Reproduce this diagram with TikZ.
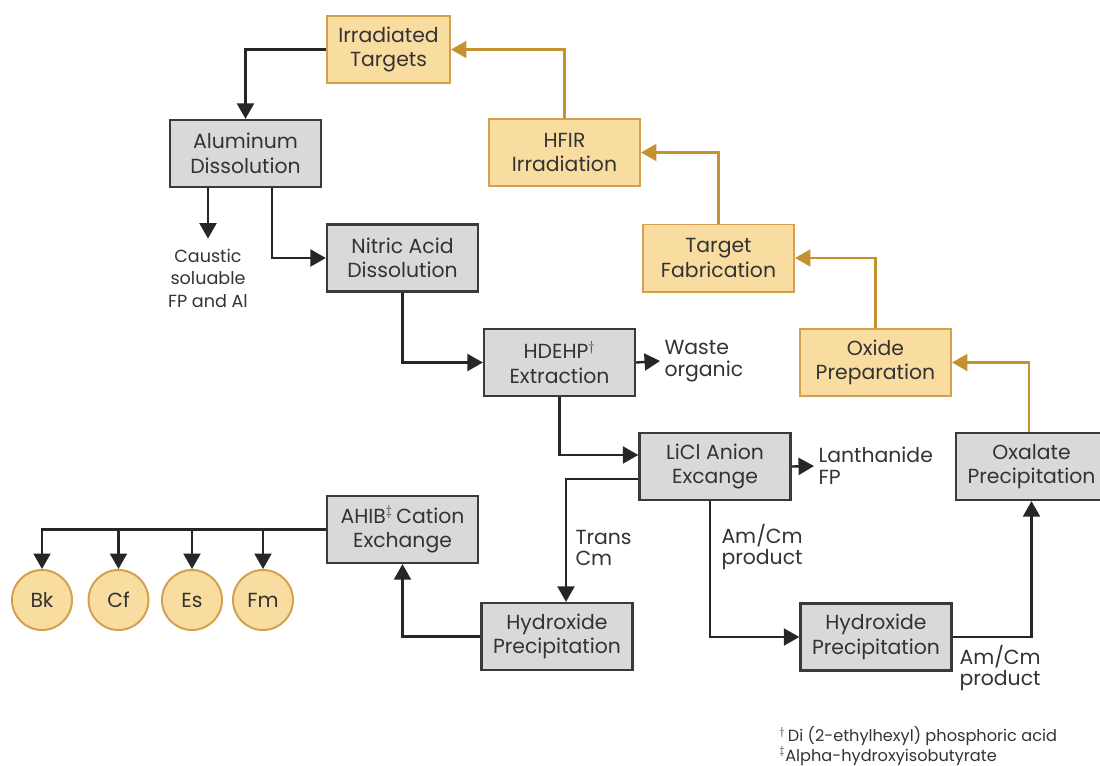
\documentclass[tikz,border=0pt]{standalone}
\usepackage{fontspec}
\setmainfont{Poppins}
\usepackage{xcolor}
\usetikzlibrary{arrows.meta,positioning,calc}
\definecolor{boxgray}{HTML}{D9D9D9}
\definecolor{boxline}{HTML}{3A3A3A}
\definecolor{tanfill}{HTML}{F9DCA0}
\definecolor{tanline}{HTML}{D3A050}
\definecolor{goldarrow}{HTML}{C4922F}
\definecolor{txtgray}{HTML}{333333}

\begin{document}
\begin{tikzpicture}[x=0.025cm,y=-0.025cm,
    proc/.style={draw=boxline,fill=boxgray,line width=1.6pt,minimum width=3.775cm,
        minimum height=1.675cm,align=center,text=txtgray,inner sep=0pt,
        font=\fontsize{14.5}{17.5}\selectfont},
    targ/.style={proc,draw=tanline,fill=tanfill,line width=1.4pt},
    elem/.style={circle,draw=tanline,fill=tanfill,line width=1.4pt,minimum size=1.5cm,
        inner sep=0pt,text=txtgray,font=\fontsize{14.5}{17}\selectfont},
    note/.style={align=left,text=txtgray,inner sep=3pt,font=\fontsize{14.5}{15.5}\selectfont},
    blk/.style={-{Triangle[length=11pt,width=12pt]},line width=1.7pt,draw=black!85},
    gld/.style={-{Triangle[length=11pt,width=12pt]},line width=1.7pt,draw=goldarrow}]

        % Page
        \fill[white] (0,0) rectangle (1100,765);
        \useasboundingbox (0,0) rectangle (1100,765);

        % Target cycle
        \node[targ,minimum width=3.075cm] (irr) at (388.5,49.5) {Irradiated\\Targets};
        \node[targ] (hfir) at (564.5,152.5) {HFIR\\Irradiation};
        \node[targ] (tfab) at (718.5,258) {Target\\Fabrication};
        \node[targ] (oxprep) at (875.5,362.5) {Oxide\\Preparation};

        % Processing steps
        \node[proc] (alum) at (245.5,153.5) {Aluminum\\Dissolution};
        \node[proc] (nitric) at (402.5,258) {Nitric Acid\\Dissolution};
        \node[proc] (hdehp) at (559.5,362.5) {HDEHP$^{\dagger}$\\Extraction};
        \node[proc] (lici) at (715,466.5) {LiCl Anion\\Excange};
        \node[proc] (oxal) at (1031.5,466.5) {Oxalate\\Precipitation};
        \node[proc] (ahib) at (402.5,529.5) {AHIB$^{\ddagger}$\,Cation\\Exchange};
        \node[proc] (hydl) at (557,636.5) {Hydroxide\\Precipitation};
        \node[proc] (hydr) at (876,637) {Hydroxide\\Precipitation};

        % Products
        \node[elem] (bk) at (42,600) {Bk};
        \node[elem] (cf) at (118.5,600) {Cf};
        \node[elem] (es) at (192,600) {Es};
        \node[elem] (fm) at (263,600) {Fm};

        % Side streams
        \node[note,align=center,inner sep=7pt,font=\fontsize{12.5}{16}\selectfont] (caustic) at (208,278) {Caustic\\soluable\\FP and Al};
        \node[note,anchor=west] (waste) at (660,361) {Waste\\organic};
        \node[note,anchor=west] (lanth) at (814,466) {Lanthanide\\FP};
        \node[note,anchor=west] (trans) at (571,548) {Trans\\Cm};
        \node[note,anchor=west] (amcma) at (717,547) {Am/Cm\\product};
        \node[note,anchor=west] (amcmb) at (955,668) {Am/Cm\\product};

        % Footnotes
        \node[note,anchor=north west,inner sep=0pt,font=\fontsize{11.5}{14}\selectfont] (foot) at (779,726)
            {$^{\dagger}$\,Di (2-ethylhexyl) phosphoric acid\\$^{\ddagger}$Alpha-hydroxyisobutyrate};

        % Gold return loop
        \draw[gld] (hfir.north) |- (irr.east);
        \draw[gld] (tfab.north) |- (hfir.east);
        \draw[gld] (oxprep.north) |- (tfab.east);
        \draw[gld] ([xshift=-2pt]oxal.north) |- (oxprep.east);

        % Main flow
        \draw[blk] (irr.west) -| (alum.north);
        \draw[blk] (alum.south -| caustic.north) -- (caustic.north);
        \draw[blk] ([xshift=18.8pt]alum.south) |- (nitric.west);
        \draw[blk] (nitric.south) |- (hdehp.west);
        \draw[blk] (hdehp.east) -- (waste.west);
        \draw[blk] (hdehp.south) |- ([yshift=8.2pt]lici.west);
        \draw[blk] (lici.east) -- (lanth.west);
        \draw[blk] ([yshift=-8.9pt]lici.west) -| ([xshift=6.4pt]hydl.north);
        \draw[blk] ([xshift=-3.5pt]lici.south) |- (hydr.west);
        \draw[blk] (hydr.east) -| (oxal.south);
        \draw[blk] (hydl.west) -| (ahib.south);

        % Split to elements
        \foreach \el in {bk,cf,es,fm}
            \draw[blk] (ahib.west) -| (\el.north);

\end{tikzpicture}
\end{document}
